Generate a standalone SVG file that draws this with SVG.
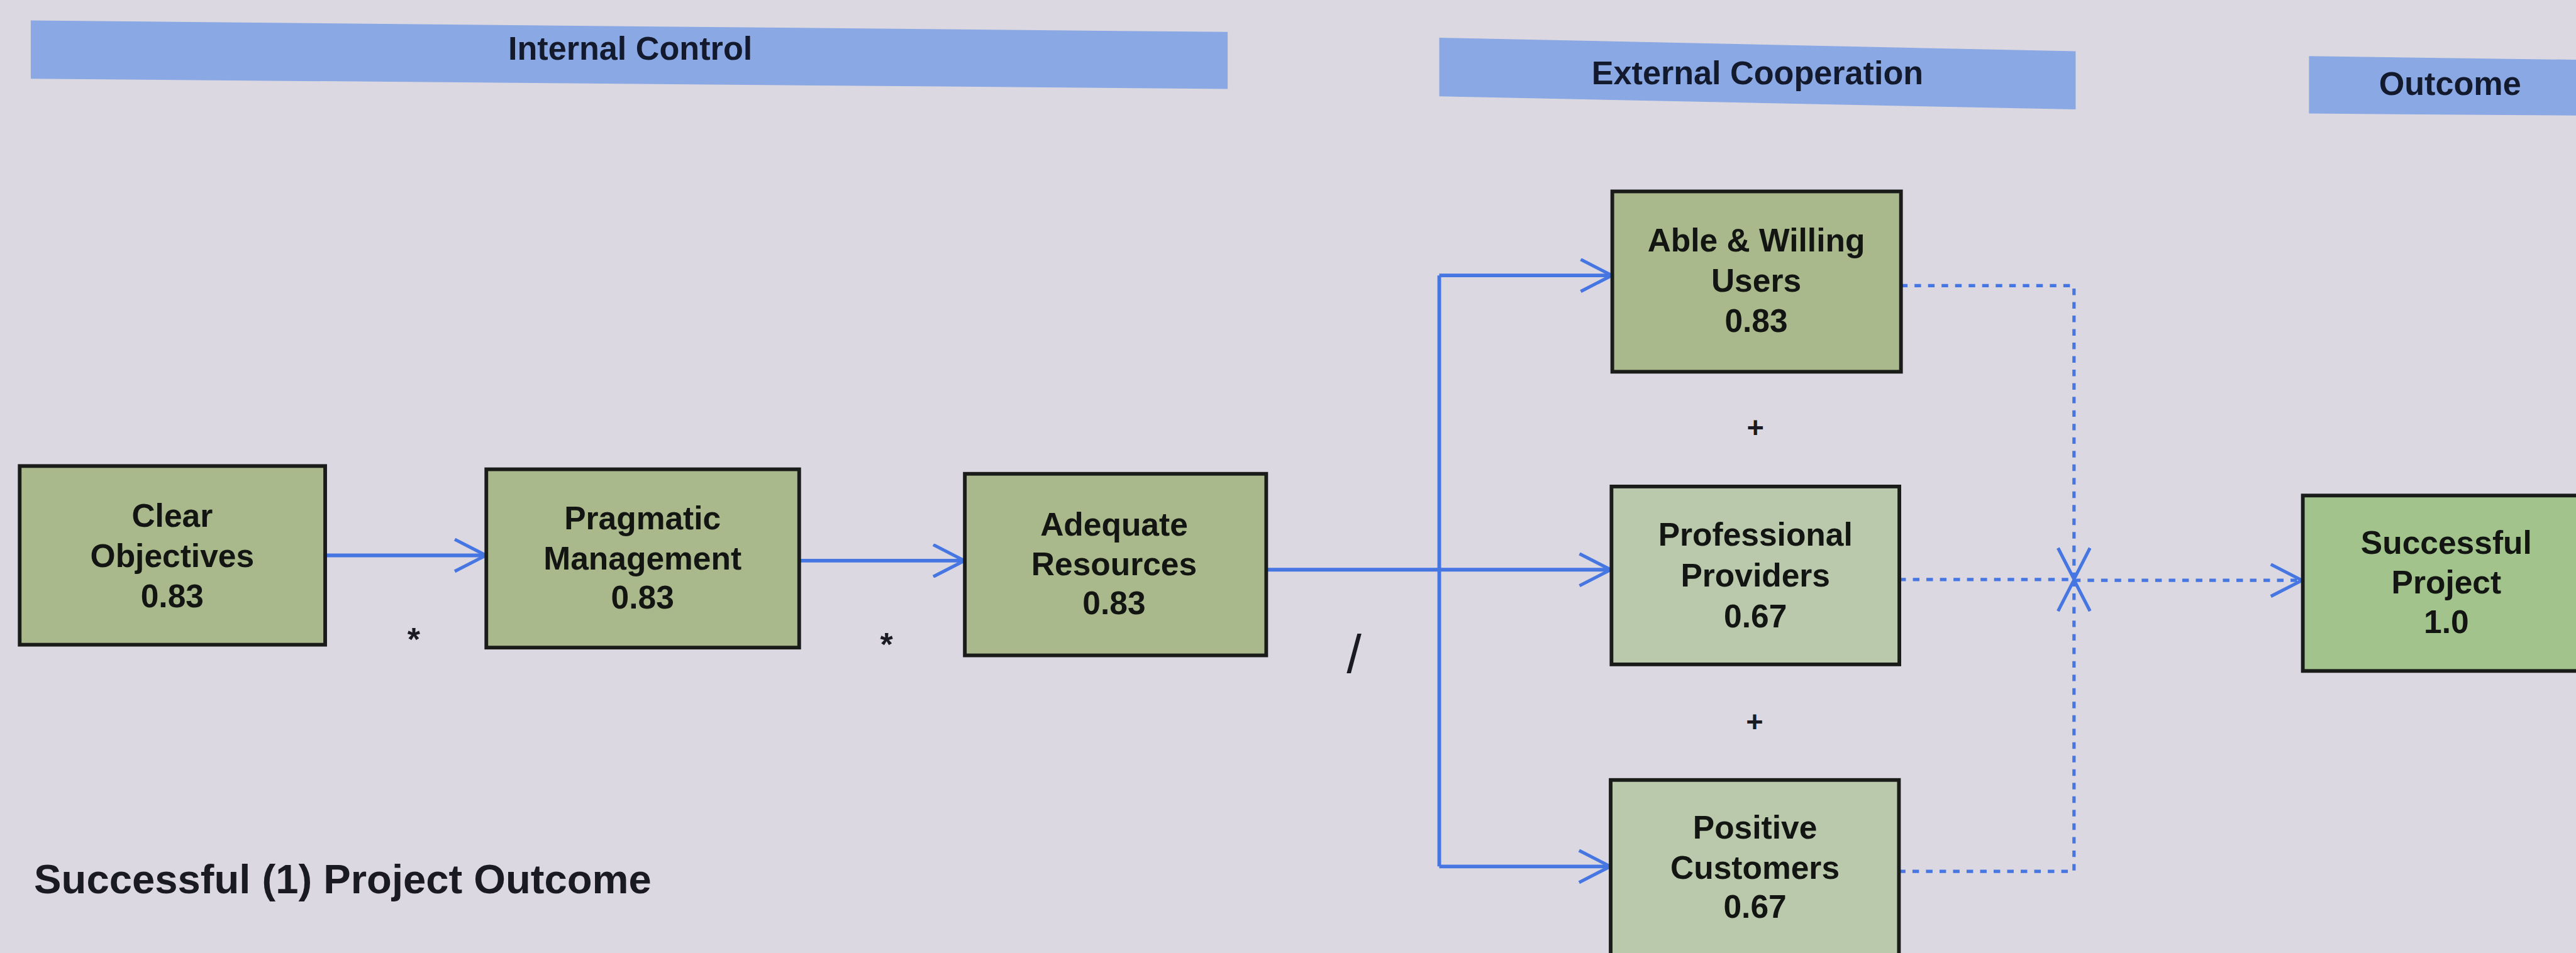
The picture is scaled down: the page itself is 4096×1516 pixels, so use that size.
<svg xmlns="http://www.w3.org/2000/svg" width="4096" height="1516" viewBox="0 0 4096 1516">
<style>
.hdr{fill:#8aa8e3;}
.htxt{font-family:"Liberation Sans",Arial,sans-serif;font-weight:bold;font-size:80px;fill:#141a2e;text-anchor:middle;}
.box{stroke:#1a1c1a;stroke-width:9;}
.olive{fill:#aab98c;}
.pale{fill:#bac9ab;}
.green{fill:#a2c48c;}
.ntxt{font-family:"Liberation Sans",Arial,sans-serif;font-weight:bold;font-size:79px;fill:#121512;text-anchor:middle;}
.lbl{font-family:"Liberation Sans",Arial,sans-serif;fill:#1a1a22;text-anchor:middle;}
.solid{fill:none;stroke:#4676e2;stroke-width:9;}
.dot{fill:none;stroke:#4676e2;stroke-width:8;stroke-dasharray:16 17;}
</style>
<defs>
<marker id="arr" markerUnits="userSpaceOnUse" viewBox="0 0 84 84" refX="80" refY="42" markerWidth="84" markerHeight="84" orient="auto">
<path d="M4,3 L80,42 L4,81" fill="none" stroke="#4676e2" stroke-width="8" stroke-dasharray="none"/>
</marker>
</defs>
<rect x="0" y="0" width="4096" height="1516" fill="#dcd8e1"/>
<g transform="scale(0.652)">
<g id="headers">
<g id="hdr-internal">
<polygon class="hdr" points="75,50 2994,78 2994,217 75,192"/>
<text class="htxt" x="1537" y="146">Internal Control</text>
</g>
<g id="hdr-external">
<polygon class="hdr" points="3510,92 5062,125 5062,267 3510,235"/>
<text class="htxt" x="4286" y="206">External Cooperation</text>
</g>
<g id="hdr-outcome">
<polygon class="hdr" points="5631,137 6300,146 6300,282 5631,277"/>
<text class="htxt" x="5975" y="232">Outcome</text>
</g>
</g>
<g id="connectors">
<path class="solid" d="M793,1355 H1185" marker-end="url(#arr)"/>
<path class="solid" d="M1949,1368 H2352" marker-end="url(#arr)"/>
<path class="solid" d="M3088,1390 H3928" marker-end="url(#arr)"/>
<path class="solid" d="M3510,672 V2114"/>
<path class="solid" d="M3510,672 H3931" marker-end="url(#arr)"/>
<path class="solid" d="M3510,2114 H3927" marker-end="url(#arr)"/>
<path class="dot" d="M4636,697 H5058 V1413" marker-end="url(#arr)"/>
<path class="dot" d="M4631,2126 H5058 V1415" marker-end="url(#arr)"/>
<path class="dot" d="M4632,1414 H5058"/>
<path class="dot" d="M5058,1416 H5614" marker-end="url(#arr)"/>
</g>
<g id="node-clear-objectives">
<rect class="box olive" x="48" y="1137" width="745" height="436"/>
<text class="ntxt" x="420" y="1286">Clear</text>
<text class="ntxt" x="420" y="1384">Objectives</text>
<text class="ntxt" x="420" y="1481">0.83</text>
</g>
<g id="node-pragmatic-management">
<rect class="box olive" x="1186" y="1145" width="763" height="435"/>
<text class="ntxt" x="1567" y="1292">Pragmatic</text>
<text class="ntxt" x="1567" y="1389">Management</text>
<text class="ntxt" x="1567" y="1485">0.83</text>
</g>
<g id="node-adequate-resources">
<rect class="box olive" x="2353" y="1156" width="735" height="443"/>
<text class="ntxt" x="2717" y="1306">Adequate</text>
<text class="ntxt" x="2717" y="1403">Resources</text>
<text class="ntxt" x="2717" y="1499">0.83</text>
</g>
<g id="node-able-willing-users">
<rect class="box olive" x="3932" y="467" width="704" height="440"/>
<text class="ntxt" x="4283" y="614">Able &amp; Willing</text>
<text class="ntxt" x="4283" y="712">Users</text>
<text class="ntxt" x="4283" y="810">0.83</text>
</g>
<g id="node-professional-providers">
<rect class="box pale" x="3930" y="1187" width="702" height="434"/>
<text class="ntxt" x="4281" y="1332">Professional</text>
<text class="ntxt" x="4281" y="1431">Providers</text>
<text class="ntxt" x="4281" y="1530">0.67</text>
</g>
<g id="node-positive-customers">
<rect class="box pale" x="3928" y="1903" width="703" height="440"/>
<text class="ntxt" x="4280" y="2046">Positive</text>
<text class="ntxt" x="4280" y="2144">Customers</text>
<text class="ntxt" x="4280" y="2240">0.67</text>
</g>
<g id="node-successful-project">
<rect class="box green" x="5616" y="1209" width="700" height="428"/>
<text class="ntxt" x="5966" y="1351">Successful</text>
<text class="ntxt" x="5966" y="1448">Project</text>
<text class="ntxt" x="5966" y="1545">1.0</text>
</g>
<g id="labels">
<text class="lbl" x="1009" y="1587" font-size="80" font-weight="bold">*</text>
<text class="lbl" x="2162" y="1600" font-size="80" font-weight="bold">*</text>
<text class="lbl" x="3302" y="1641" font-size="130">/</text>
<text class="lbl" x="4281" y="1067" font-size="72" font-weight="bold">+</text>
<text class="lbl" x="4279" y="1786" font-size="72" font-weight="bold">+</text>
<text class="lbl" x="83" y="2180" font-size="100" font-weight="bold" text-anchor="start" style="text-anchor:start">Successful (1) Project Outcome</text>
</g>
</g>
</svg>
